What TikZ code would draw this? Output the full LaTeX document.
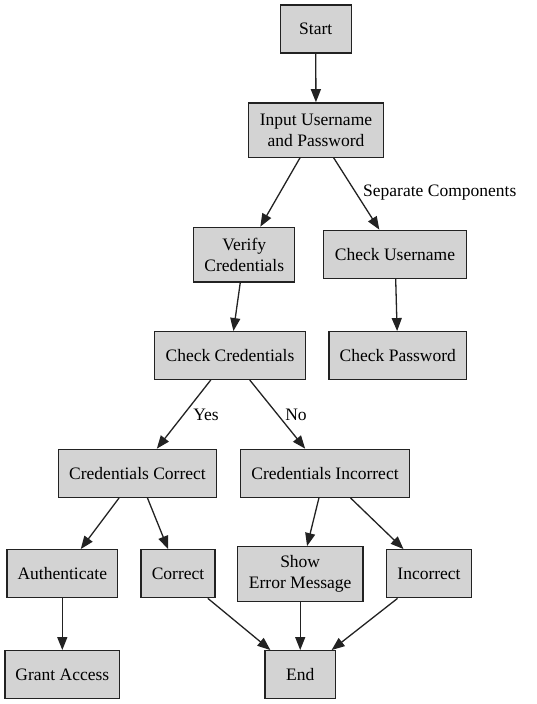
\documentclass[tikz,border=0pt]{standalone}
\usepackage{fontspec}
\setmainfont{Liberation Serif}
\usetikzlibrary{arrows.meta}
\definecolor{boxfill}{HTML}{D3D3D3}
\definecolor{edgecol}{HTML}{222222}
\tikzset{
  box/.style={draw=edgecol, fill=boxfill, line width=1.3pt, inner sep=0pt,
    align=center, font=\fontsize{17.5}{21}\selectfont, minimum height=48pt},
  conn/.style={draw=edgecol, line width=1.3pt, -{Triangle[length=13pt,width=10pt]}},
  lbl/.style={font=\fontsize{17.5}{21}\selectfont, inner sep=0pt}
}
\begin{document}
\begin{tikzpicture}[x=1pt,y=-1pt]
\useasboundingbox (0,0) rectangle (536,704);
\node[box, minimum width=71pt] (start) at (315.7,29) {Start};
\node[box, minimum width=135.4pt, minimum height=54.3pt] (input) at (316,130) {Input Username\\and Password};
\node[box, minimum width=101pt, minimum height=54.7pt] (verify) at (244.2,254.7) {Verify\\Credentials};
\node[box, minimum width=143.4pt] (cu) at (395,254.3) {Check Username};
\node[box, minimum width=151.4pt, minimum height=47.6pt] (cc) at (230,355.5) {Check Credentials};
\node[box, minimum width=137.7pt, minimum height=47.6pt] (cp) at (397.8,355.5) {Check Password};
\node[box, minimum width=158.4pt] (ccor) at (137.5,473.3) {Credentials Correct};
\node[box, minimum width=169.4pt] (cinc) at (325,473.3) {Credentials Incorrect};
\node[box, minimum width=110.7pt] (auth) at (62.3,573.7) {Authenticate};
\node[box, minimum width=74pt] (corr) at (178,573.7) {Correct};
\node[box, minimum width=125.7pt, minimum height=54.6pt] (show) at (300.2,574) {Show\\Error Message};
\node[box, minimum width=84.6pt] (inc) at (429,573.7) {Incorrect};
\node[box, minimum width=114.7pt] (grant) at (62.3,674.7) {Grant Access};
\node[box, minimum width=70.3pt] (end) at (300.2,674.7) {End};

\draw[conn] (start) -- (input);
\draw[conn] (input) -- (verify);
\draw[conn] (input) -- (cu);
\draw[conn] (verify) -- (cc);
\draw[conn] (cu) -- (cp);
\draw[conn] (cc) -- (ccor);
\draw[conn] (cc) -- (cinc);
\draw[conn] (ccor) -- (auth);
\draw[conn] (ccor) -- (corr);
\draw[conn] (cinc) -- (show);
\draw[conn] (cinc) -- (inc);
\draw[conn] (auth) -- (grant);
\draw[conn] (corr) -- (end);
\draw[conn] (show) -- (end);
\draw[conn] (inc) -- (end);

\node[lbl, anchor=west] (lsep) at (363,193) {Separate Components};
\node[lbl] (lyes) at (206,415) {Yes};
\node[lbl] (lno) at (296,415) {No};
\end{tikzpicture}
\end{document}
